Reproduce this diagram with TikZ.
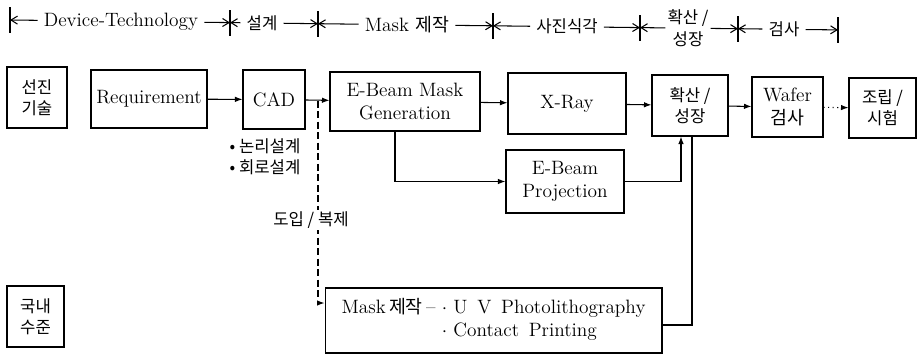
\documentclass[tikz,border=0pt]{standalone}
\usepackage{fontspec}
\newfontfamily\kr{Noto Sans CJK KR}[Scale=0.95]
\usetikzlibrary{positioning,arrows.meta}

\begin{document}
\begin{tikzpicture}[
  x=0.02cm, y=-0.02cm,
  font=\fontsize{11}{13}\selectfont,
  blk/.style={draw, semithick, align=center, inner sep=2pt},
  ar/.style={-{Latex[length=1.5mm,width=1.1mm]}, semithick},
  hd/.style={-{Straight Barb[length=1.3mm,width=1.6mm]}, semithick}
]
\useasboundingbox (0,0) rectangle (918,355);
\coordinate (b0) at (10,20);
\coordinate (b1) at (230,22.6);
\coordinate (b2) at (318,23.7);
\coordinate (b3) at (493,25.8);
\coordinate (b4) at (640,27.6);
\coordinate (b5) at (738,28.7);
\coordinate (b6) at (838,29.9);
\node              (dvt) at (121,21.3) {Device-Technology};
\node[font=\kr]    (slg) at (262,23)   {설계};
\node              (mjk) at (407,24.8) {Mask {\kr 제작}};
\node[font=\kr]    (sjs) at (567,26.7) {사진식각};
\node[font=\kr, align=center, inner sep=1pt] (hsh) at (688,28.2) {확산 /\\성장};
\node[font=\kr]    (gsa) at (784,29.3) {검사};
\foreach \b in {b0,b1,b2,b3,b4,b5,b6} \draw[semithick] ([yshift=-0.26cm]\b)--([yshift=0.26cm]\b);
\draw[hd] (dvt)--(b0); \draw[hd] (dvt)--(b1);
\draw[hd] (slg)--(b1); \draw[hd] (slg)--(b2);
\draw[hd] (mjk)--(b2); \draw[hd] (mjk)--(b3);
\draw[hd] (sjs)--(b3); \draw[hd] (sjs)--(b4);
\draw[hd] (hsh)--(b4); \draw[hd] (hsh)--(b5);
\draw[hd] (gsa)--(b5); \draw[hd] (gsa)--(b6);

\node[blk, font=\kr, minimum width=1.2cm, minimum height=1.22cm]  (sgs)  at (37,97.5)   {선진\\기술};
\node[blk, minimum width=2.32cm, minimum height=1.16cm]            (req)  at (149,99)    {Requirement};
\node[blk, minimum width=1.24cm, minimum height=1.18cm]            (cad)  at (274,99.5)  {CAD};
\node[blk, minimum width=3.0cm, minimum height=1.18cm]             (ebm)  at (405,101.5) {E-Beam Mask\\Generation};
\node[blk, minimum width=2.36cm, minimum height=1.22cm]            (xray) at (567,103.5) {X-Ray};
\node[blk, font=\kr, minimum width=1.52cm, minimum height=1.22cm] (hsj)  at (690,105.5) {확산 /\\성장};
\node[blk, minimum width=1.42cm, minimum height=1.2cm]             (wfr)  at (787.5,107) {Wafer\\{\kr 검사}};
\node[blk, font=\kr, minimum width=1.34cm, minimum height=1.2cm]  (jrs)  at (882.5,108) {조립 /\\시험};
\node[blk, minimum width=2.36cm, minimum height=1.26cm]            (ebp)  at (565,181.5) {E-Beam\\Projection};
\node[blk, font=\kr, minimum width=1.14cm, minimum height=1.22cm] (gns)  at (35.5,316.5) {국내\\수준};
\node[blk, minimum width=6.74cm, minimum height=1.3cm]             (mkj)  at (493.5,320.5)
  {\begin{tabular}{@{}l@{\ }l@{}}Mask\,{\kr 제작}\,-- & $\cdot$ U\enspace V\enspace Photolithography\\ & $\cdot$ Contact\enspace Printing\end{tabular}};
\node[font=\kr, align=left] (ssg) at (265,157) {• 논리설계\\• 회로설계};
\coordinate (jn) at (318,100.5);

\draw[ar](req)--(cad); \draw[ar](cad)--(ebm); \draw[ar](ebm)--(xray); \draw[ar](xray)--(hsj);
\draw[ar](hsj)--(wfr); \draw[ar, dotted](wfr)--(jrs);
\draw[ar] ([xshift=-0.2cm]ebm.south) |- (ebp);
\draw[ar] (ebp) -| ([xshift=-0.18cm]hsj.south);
\draw[semithick] ([yshift=-0.09cm]mkj.east) -| ([xshift=0.04cm]hsj.south);
\draw[ar, dash pattern=on 4pt off 2pt] (jn) |- ([yshift=0.35cm]mkj.west);
\node[font=\kr, fill=white, inner sep=1pt] (dib) at (311,220) {도입 / 복제};
\end{tikzpicture}
\end{document}
